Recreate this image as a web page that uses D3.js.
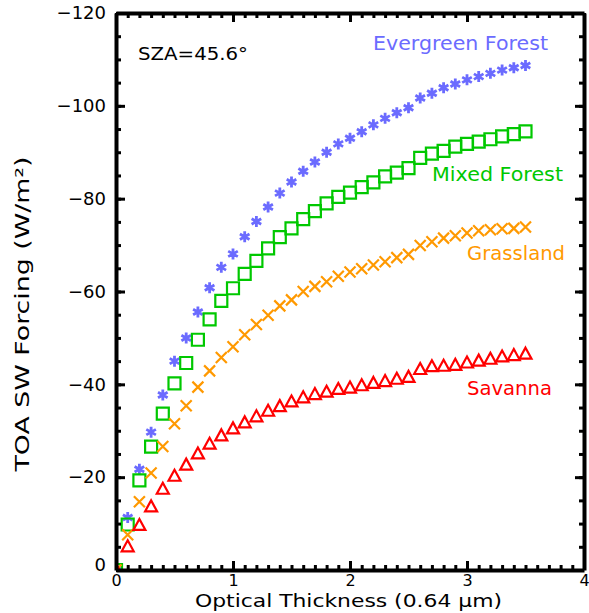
<!DOCTYPE html>
<html><head><meta charset="utf-8">
<script src="https://cdn.jsdelivr.net/npm/d3@7"></script>
<style>
html,body{margin:0;padding:0;background:#fff;}
svg{display:block;font-family:"DejaVu Sans",sans-serif;}
</style></head>
<body>
<script>
// ---- data ----
const opticalThickness = [0.0,0.1,0.2,0.3,0.4,0.5,0.6,0.7,0.8,0.9,1.0,1.1,1.2,1.3,1.4,1.5,1.6,1.7,1.8,1.9,2.0,2.1,2.2,2.3,2.4,2.5,2.6,2.7,2.8,2.9,3.0,3.1,3.2,3.3,3.4,3.5];
const evergreenForest = [0,-11.3,-21.7,-29.7,-37.7,-45.0,-50.0,-55.6,-60.8,-65.2,-68.1,-71.8,-75.1,-78.2,-81.2,-83.6,-85.9,-87.9,-90.0,-91.8,-93.0,-94.4,-95.9,-97.3,-98.5,-99.6,-101.7,-102.7,-103.9,-104.7,-105.6,-106.3,-107.0,-107.7,-108.2,-108.7];
const mixedForest = [0,-9.8,-19.3,-26.6,-33.7,-40.2,-44.6,-49.6,-54.0,-58.0,-60.7,-63.8,-66.6,-69.3,-71.7,-73.6,-75.6,-77.3,-79.0,-80.4,-81.3,-82.5,-83.5,-84.8,-85.6,-86.6,-88.8,-89.7,-90.3,-91.2,-91.8,-92.3,-92.8,-93.4,-93.9,-94.5];
const grassland = [0,-7.6,-14.7,-20.9,-26.6,-31.5,-35.4,-39.4,-42.9,-45.8,-48.1,-50.7,-52.9,-54.9,-56.9,-58.2,-60.0,-61.1,-62.1,-63.3,-64.2,-64.9,-65.7,-66.4,-67.3,-68.0,-69.9,-70.7,-71.5,-72.0,-72.6,-73.1,-73.3,-73.5,-73.6,-73.9];
const savanna = [0,-5.0,-9.6,-13.6,-17.4,-20.2,-22.6,-25.0,-27.1,-28.9,-30.4,-31.7,-33.0,-34.2,-35.2,-36.2,-37.1,-37.8,-38.3,-38.9,-39.2,-39.7,-40.2,-40.6,-41.1,-41.5,-43.2,-43.8,-43.9,-44.1,-44.6,-45.0,-45.4,-45.9,-46.2,-46.5];
const seriesNames = ["Evergreen Forest","Mixed Forest","Grassland","Savanna"];
const xTicks = [0,1,2,3,4];
const yTicks = [0,-20,-40,-60,-80,-100,-120];
const annotation = "SZA=45.6°";

// ---- layout ----
const W = 589, H = 613;
const X0 = 116, X1 = 584, Y0 = 570, Y1 = 13;
const x = d3.scaleLinear().domain([0,4]).range([X0,X1]);
const y = d3.scaleLinear().domain([0,-120]).range([Y0,Y1]);

const svg = d3.select("body").append("svg").attr("width",W).attr("height",H);

const styles = [
  {name:seriesNames[0], vals:evergreenForest, color:"#6b6bff", sym:"star",   label:{x:373,y:50,len:175}},
  {name:seriesNames[1], vals:mixedForest,     color:"#00c800", sym:"square", label:{x:432,y:181,len:131}},
  {name:seriesNames[2], vals:grassland,       color:"#ff9900", sym:"cross",  label:{x:467,y:260,len:98}},
  {name:seriesNames[3], vals:savanna,         color:"#ff0000", sym:"tri",    label:{x:467,y:395,len:85}}
];

svg.append("clipPath").attr("id","plotclip").append("rect")
  .attr("x",X0).attr("y",Y1).attr("width",X1-X0).attr("height",Y0-Y1);

const symPath = {
  star: "M0,-5.5L0,5.5M-4.8,-2.75L4.8,2.75M-4.8,2.75L4.8,-2.75",
  square: "M-6,-6H6V6H-6Z",
  cross: "M-5.5,-5.5L5.5,5.5M-5.5,5.5L5.5,-5.5",
  tri: "M0,-6.5L6,4.5H-6Z"
};

const marks = svg.append("g").attr("clip-path","url(#plotclip)");
styles.forEach(s=>{
  marks.append("g").selectAll("path").data(opticalThickness.map((t,i)=>[t,s.vals[i]]))
    .join("path")
    .attr("transform",d=>`translate(${x(d[0])},${y(d[1])})`)
    .attr("d",symPath[s.sym])
    .attr("fill","none").attr("stroke",s.color)
    .attr("stroke-width", s.sym==="star"?2.8:2.2)
    .attr("stroke-linejoin","miter");
  svg.append("text").attr("x",s.label.x).attr("y",s.label.y)
    .attr("font-size",19).attr("fill",s.color)
    .attr("textLength",s.label.len).attr("lengthAdjust","spacingAndGlyphs")
    .text(s.name);
});

// ---- axes ----
const minorX = d3.range(0,41).map(i=>i/10);
const minorY = d3.range(0,25).map(i=>-i*5);
const fmt = d => d===0 ? "0" : "\u2212" + Math.abs(d);

function styleAxis(g, width, fs){
  g.select(".domain").attr("stroke","#000").attr("stroke-width",width);
  g.selectAll(".tick line").attr("stroke","#000").attr("stroke-width",3);
  g.selectAll("text").attr("font-size",fs).attr("fill","#000").attr("font-family","DejaVu Sans, sans-serif");
}
function minor(g){ g.select(".domain").remove(); g.selectAll(".tick line").attr("stroke","#000").attr("stroke-width",3); }

// minor ticks
svg.append("g").attr("transform",`translate(0,${Y0})`)
  .call(d3.axisBottom(x).tickValues(minorX).tickSize(-5).tickSizeOuter(0).tickFormat("")).call(minor);
svg.append("g").attr("transform",`translate(0,${Y1})`)
  .call(d3.axisTop(x).tickValues(minorX).tickSize(-5).tickSizeOuter(0).tickFormat("")).call(minor);
svg.append("g").attr("transform",`translate(${X0},0)`)
  .call(d3.axisLeft(y).tickValues(minorY).tickSize(-5).tickSizeOuter(0).tickFormat("")).call(minor);
svg.append("g").attr("transform",`translate(${X1},0)`)
  .call(d3.axisRight(y).tickValues(minorY).tickSize(-5).tickSizeOuter(0).tickFormat("")).call(minor);

// major axes
svg.append("g").attr("transform",`translate(0,${Y0})`)
  .call(d3.axisBottom(x).tickValues(xTicks).tickSize(-9).tickSizeOuter(0).tickPadding(5).tickFormat(d3.format("d")))
  .call(g=>styleAxis(g,4,16));
svg.append("g").attr("transform",`translate(0,${Y1})`)
  .call(d3.axisTop(x).tickValues(xTicks).tickSize(-9).tickSizeOuter(0).tickFormat(""))
  .call(g=>styleAxis(g,4,16));
svg.append("g").attr("transform",`translate(${X0},0)`)
  .call(d3.axisLeft(y).tickValues(yTicks).tickSize(-9).tickSizeOuter(0).tickPadding(10).tickFormat(fmt))
  .call(g=>styleAxis(g,4,18))
  .call(g=>g.selectAll(".tick").filter(d=>d===0).select("text").attr("dy","0.0em"));
svg.append("g").attr("transform",`translate(${X1},0)`)
  .call(d3.axisRight(y).tickValues(yTicks).tickSize(-9).tickSizeOuter(0).tickFormat(""))
  .call(g=>styleAxis(g,4,18));

// ---- titles ----
svg.append("text").attr("x",348.5).attr("y",607).attr("text-anchor","middle")
  .attr("font-size",17).attr("textLength",307).attr("lengthAdjust","spacingAndGlyphs")
  .text("Optical Thickness (0.64 \u03bcm)");
svg.append("text").attr("transform","translate(29,314) rotate(-90)").attr("text-anchor","middle")
  .attr("font-size",19).attr("textLength",315).attr("lengthAdjust","spacingAndGlyphs")
  .text("TOA SW Forcing (W/m\u00b2)");
svg.append("text").attr("x",138).attr("y",60).attr("font-size",18)
  .attr("textLength",110).attr("lengthAdjust","spacingAndGlyphs").text(annotation);
</script>
</body></html>
